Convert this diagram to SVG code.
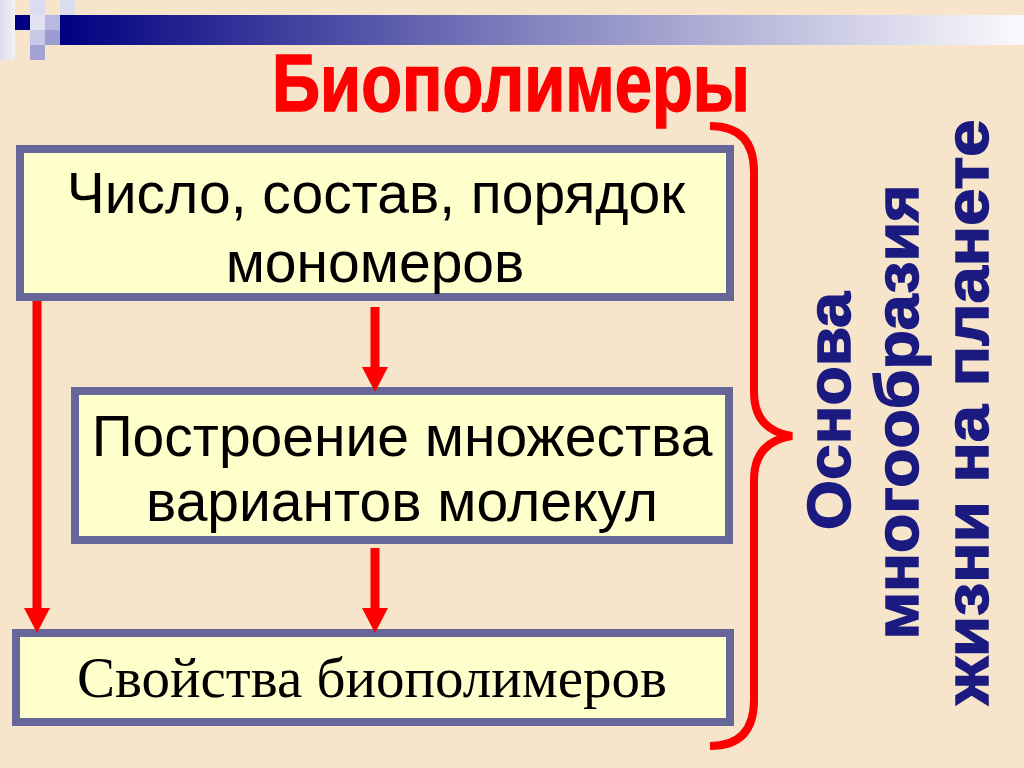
<svg xmlns="http://www.w3.org/2000/svg" width="1024" height="768" viewBox="0 0 1024 768">
  <defs>
    <linearGradient id="bar" x1="0" y1="0" x2="1" y2="0">
      <stop offset="0" stop-color="#000080"/>
      <stop offset="0.5" stop-color="#8585c0"/>
      <stop offset="1" stop-color="#fbfafd"/>
    </linearGradient>
    <linearGradient id="corner" x1="0" y1="0" x2="1" y2="0">
      <stop offset="0" stop-color="#dcdcf0"/>
      <stop offset="1" stop-color="#f4f0f0"/>
    </linearGradient>
    <marker id="head" viewBox="0 0 25 26" refX="2" refY="13" markerWidth="25" markerHeight="26" markerUnits="userSpaceOnUse" orient="auto">
      <path d="M0,0 L25,13 L0,26 z" fill="#ff0000"/>
    </marker>
    <style>
      .box { fill: #ffffcc; stroke: #666699; stroke-width: 8; }
      .sans { font-family: "Liberation Sans", Arial, sans-serif; font-size: 57px; fill: #000000; text-anchor: middle; }
      .serif { font-family: "Liberation Serif", "Times New Roman", serif; font-size: 57px; fill: #000000; text-anchor: middle; }
      .vert { font-family: "Liberation Sans", Arial, sans-serif; font-weight: bold; font-size: 62px; fill: #1a1a80; stroke: #1a1a80; stroke-width: 1.5; text-anchor: middle; }
      .arrow { stroke: #ff0000; stroke-width: 9; fill: none; marker-end: url(#head); }
    </style>
  </defs>

  <rect x="0" y="0" width="1024" height="768" fill="#f6e4cb"/>

  <g id="decoration">
    <rect x="0" y="0" width="15" height="60" fill="url(#corner)"/>
    <rect x="30" y="0" width="15" height="60" fill="#dcdcf0"/>
    <rect x="60" y="0" width="15" height="15" fill="#dcdcf0"/>
    <rect x="60" y="15" width="964" height="30" fill="url(#bar)"/>
    <rect x="15" y="15" width="15" height="15" fill="#000080"/>
    <rect x="30" y="15" width="15" height="15" fill="#e2e2f2"/>
    <rect x="45" y="15" width="15" height="15" fill="#b8b8e0"/>
    <rect x="30" y="30" width="15" height="15" fill="#c8c8e6"/>
    <rect x="45" y="30" width="15" height="15" fill="#9c9cd0"/>
    <rect x="30" y="45" width="15" height="15" fill="#a4a4d4"/>
  </g>

  <text id="title" x="511" y="111" font-family="'Liberation Sans Narrow', 'Liberation Sans', Arial, sans-serif" font-weight="bold" font-size="82" fill="#ff0000" stroke="#ff0000" stroke-width="1.5" text-anchor="middle" textLength="478" lengthAdjust="spacingAndGlyphs">Биополимеры</text>

  <g id="node-monomers">
    <rect class="box" x="20" y="149" width="710" height="148"/>
    <text class="sans" x="376" y="213">Число, состав, порядок</text>
    <text class="sans" x="375" y="282">мономеров</text>
  </g>

  <g id="node-variants">
    <rect class="box" x="75" y="391" width="654" height="149"/>
    <text class="sans" x="402" y="456">Построение множества</text>
    <text class="sans" x="402" y="521">вариантов молекул</text>
  </g>

  <g id="node-properties">
    <rect class="box" x="16" y="633" width="714" height="89"/>
    <text class="serif" x="372" y="697">Свойства биополимеров</text>
  </g>

  <g id="connectors">
    <line class="arrow" x1="37" y1="301" x2="37" y2="610"/>
    <line class="arrow" x1="375" y1="307" x2="375" y2="369"/>
    <line class="arrow" x1="375" y1="548" x2="375" y2="610"/>
  </g>

  <g id="brace">
    <path d="M710,126 Q754,126 754,172 L754,392 Q754,430 792,436 Q754,442 754,480 L754,700 Q754,746 710,746" fill="none" stroke="#ff0000" stroke-width="8"/>
  </g>

  <g id="node-basis">
    <text class="vert" transform="translate(850,411) rotate(-90)" textLength="238" lengthAdjust="spacingAndGlyphs">Основа</text>
    <text class="vert" transform="translate(918,412) rotate(-90)" textLength="455" lengthAdjust="spacingAndGlyphs">многообразия</text>
    <text class="vert" transform="translate(988,412) rotate(-90)" textLength="585" lengthAdjust="spacingAndGlyphs">жизни на планете</text>
  </g>
</svg>
